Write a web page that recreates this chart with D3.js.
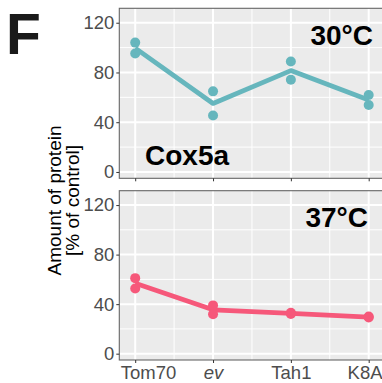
<!DOCTYPE html>
<html>
<head>
<meta charset="utf-8">
<script src="https://cdn.jsdelivr.net/npm/d3@7"></script>
<style>
  html, body { margin: 0; padding: 0; background: #fff; }
  svg { display: block; font-family: "Liberation Sans", Arial, sans-serif; }
</style>
</head>
<body>
<svg id="chart" width="382" height="383"></svg>
<script>
// Strains on the x axis
const strains = ["Tom70", "ev", "Tah1", "K8A"];
// Replicate measurements (% of control) per strain, Cox5a at 30°C
const rep30a = [104, 64.8, 88.8, 61.9];
const rep30b = [95.2, 45.4, 74.2, 53.9];
// Replicate measurements (% of control) per strain, Cox5a at 37°C
const rep37a = [61, 39, 33, 30];
const rep37b = [52.6, 31.8, 32, 29.2];
// Y axis ticks
const yTicks = [0, 40, 80, 120];
const yMinor = [20, 60, 100];
const panelLabels = ["30°C", "37°C"];

const mean = (a, b) => a.map((v, i) => (v + b[i]) / 2);

const panels = [
  { label: panelLabels[0], a: rep30a, b: rep30b, color: "#66B6BD", top: 8.3, bottom: 178.3, labelRight: 373 },
  { label: panelLabels[1], a: rep37a, b: rep37b, color: "#F6587A", top: 190.7, bottom: 360, labelRight: 368 }
];

const svg = d3.select("#chart");
const left = 119.3, right = 384.7;

const x = d3.scalePoint().domain(strains).range([135.2, 368.7]);
const xStep = x.step();
const xMinor = strains.slice(0, -1).map(s => x(s) + xStep / 2);

panels.forEach((p, pi) => {
  const y = d3.scaleLinear().domain([-5.1, 131.6]).range([p.bottom, p.top]);
  const g = svg.append("g");

  g.append("rect")
    .attr("x", left).attr("y", p.top)
    .attr("width", right - left).attr("height", p.bottom - p.top)
    .attr("fill", "#EBEBEB");

  // minor grid
  g.selectAll(".ymin").data(yMinor).join("line")
    .attr("x1", left).attr("x2", right)
    .attr("y1", d => y(d)).attr("y2", d => y(d))
    .attr("stroke", "#fff").attr("stroke-width", 1);
  g.selectAll(".xmin").data(xMinor).join("line")
    .attr("x1", d => d).attr("x2", d => d)
    .attr("y1", p.top).attr("y2", p.bottom)
    .attr("stroke", "#fff").attr("stroke-width", 1);
  // major grid
  g.selectAll(".ymaj").data(yTicks).join("line")
    .attr("x1", left).attr("x2", right)
    .attr("y1", d => y(d)).attr("y2", d => y(d))
    .attr("stroke", "#fff").attr("stroke-width", 2);
  g.selectAll(".xmaj").data(strains).join("line")
    .attr("x1", d => x(d)).attr("x2", d => x(d))
    .attr("y1", p.top).attr("y2", p.bottom)
    .attr("stroke", "#fff").attr("stroke-width", 2);

  // mean line
  const m = mean(p.a, p.b);
  g.append("path")
    .datum(strains.map((s, i) => [s, m[i]]))
    .attr("fill", "none")
    .attr("stroke", p.color)
    .attr("stroke-width", 4.8)
    .attr("stroke-linejoin", "round")
    .attr("d", d3.line().x(d => x(d[0])).y(d => y(d[1])));

  // replicate points
  const pts = strains.flatMap((s, i) => [[s, p.a[i]], [s, p.b[i]]]);
  g.selectAll(".pt").data(pts).join("circle")
    .attr("cx", d => x(d[0])).attr("cy", d => y(d[1]))
    .attr("r", 5).attr("fill", p.color);

  // panel border
  g.append("rect")
    .attr("x", left).attr("y", p.top)
    .attr("width", right - left).attr("height", p.bottom - p.top)
    .attr("fill", "none").attr("stroke", "#666").attr("stroke-width", 1.1);

  // y axis
  const yAxis = d3.axisLeft(y).tickValues(yTicks).tickSize(3).tickPadding(2);
  const ya = g.append("g").attr("transform", `translate(${left},0)`).call(yAxis);
  ya.select(".domain").remove();
  ya.selectAll(".tick line").attr("stroke", "#333");
  ya.selectAll(".tick text").attr("fill", "#4D4D4D").attr("font-size", 18.5)
    .attr("font-family", "Liberation Sans, Arial, sans-serif");

  // x axis ticks (labels only on the lower panel)
  const xAxis = d3.axisBottom(x).tickSize(3).tickPadding(3);
  const xa = g.append("g").attr("transform", `translate(0,${p.bottom})`).call(xAxis);
  xa.select(".domain").remove();
  xa.selectAll(".tick line").attr("stroke", "#333");
  const last = strains.length - 1;
  xa.selectAll(".tick text").attr("fill", "#4D4D4D").attr("font-size", 18.5)
    .attr("font-family", "Liberation Sans, Arial, sans-serif")
    .attr("font-style", d => d === "ev" ? "italic" : "normal")
    // the outer labels are pulled in so they stay inside the panel width
    .attr("text-anchor", (d, i) => i === 0 ? "start" : i === last ? "end" : "middle")
    .attr("x", (d, i) => i === 0 ? left + 1 - x(d) : i === last ? 382 - x(d) : 0);
  if (pi === 0) xa.selectAll(".tick text").remove();

  // temperature label
  g.append("text")
    .attr("x", p.labelRight).attr("y", p.top + 36.5)
    .attr("text-anchor", "end")
    .attr("font-size", 28).attr("font-weight", "bold").attr("fill", "#000")
    .text(p.label);
});

// protein name
svg.append("text")
  .attr("x", 145).attr("y", 165)
  .attr("font-size", 28).attr("font-weight", "bold").attr("fill", "#000")
  .text("Cox5a");

// panel letter
svg.append("text")
  .attr("x", 6).attr("y", 54)
  .attr("font-size", 57).attr("font-weight", "bold").attr("fill", "#1a1a1a")
  .text("F");

// y axis title
const yt = svg.append("text")
  .attr("transform", "translate(61,200.5) rotate(-90)")
  .attr("text-anchor", "middle")
  .attr("font-size", 19).attr("fill", "#000");
yt.append("tspan").attr("x", 0).attr("dy", 0).text("Amount of protein");
yt.append("tspan").attr("x", 0).attr("dy", 18).text("[% of control]");
</script>
</body>
</html>
